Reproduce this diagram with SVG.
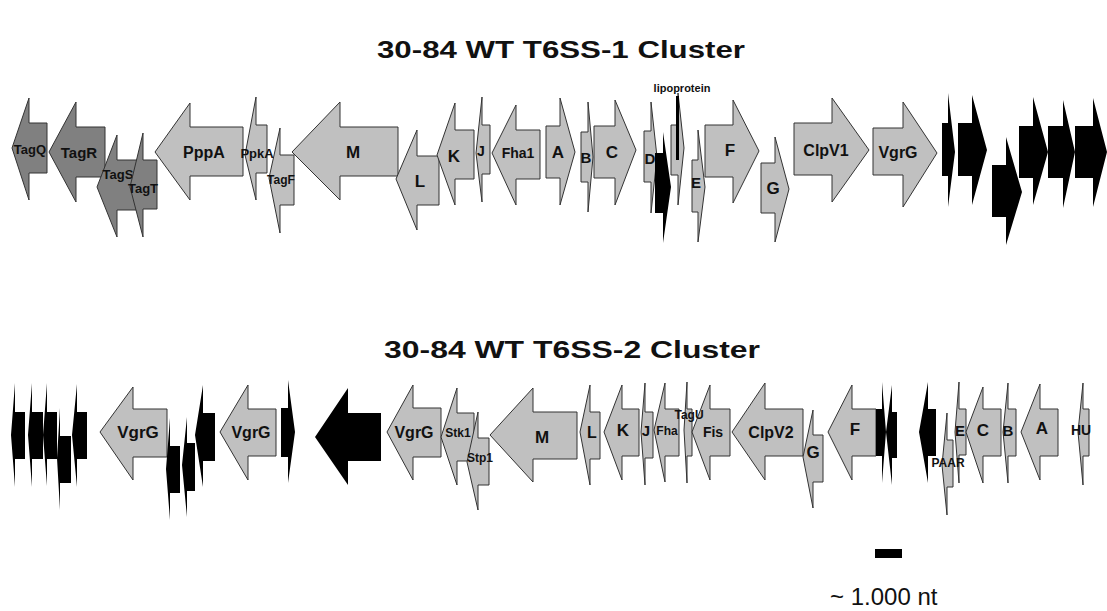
<svg xmlns="http://www.w3.org/2000/svg" width="1107" height="611" viewBox="0 0 1107 611">
<style>
.dk{fill:#808080;stroke:#333;stroke-width:1}
.lt{fill:#c0c0c0;stroke:#333;stroke-width:1}
.bk{fill:#000;stroke:none}
.l{font-family:"Liberation Sans",Arial,sans-serif;font-weight:bold;fill:#111;text-anchor:middle;dominant-baseline:central}
.t{font-family:"Liberation Sans",Arial,sans-serif;font-weight:bold;fill:#111;text-anchor:middle}
</style>
<rect width="1107" height="611" fill="#fff"/>
<text class="t" x="561" y="58" font-size="24" textLength="368" lengthAdjust="spacingAndGlyphs">30-84 WT T6SS-1 Cluster</text>
<text class="t" x="572" y="358" font-size="24" textLength="376" lengthAdjust="spacingAndGlyphs">30-84 WT T6SS-2 Cluster</text>
<g id="connectors"/>
<!-- Cluster 1 -->
<g id="c1-TagQ"><polygon class="dk" points="12,148 29,98 29,123 47,123 47,173 29,173 29,200"/><text class="l" x="30" y="149" font-size="13">TagQ</text></g>
<g id="c1-TagR"><polygon class="dk" points="49,152 76,102 76,127 105,127 105,177 76,177 76,202"/><text class="l" x="79" y="152" font-size="15">TagR</text></g>
<g id="c1-TagS"><polygon class="dk" points="97,187 117,135 117,160 140,160 140,210 117,210 117,237"/><text class="l" x="118" y="174" font-size="13">TagS</text></g>
<g id="c1-TagT"><polygon class="dk" points="130,187 143,133 143,160 157,160 157,209 143,209 143,237"/><text class="l" x="143" y="188" font-size="13">TagT</text></g>
<g id="c1-PppA"><polygon class="lt" points="155,152 190,103 190,127 243,127 243,176 190,176 190,200"/><text class="l" x="204" y="152" font-size="16">PppA</text></g>
<g id="c1-PpkA"><polygon class="lt" points="245,155 256,97 256,125 267,125 267,173 256,173 256,200"/></g>
<g id="c1-TagF"><polygon class="lt" points="269,178 280,128 280,155 294,155 294,205 280,205 280,233"/><text class="l" x="281" y="180" font-size="12">TagF</text></g>
<text class="l" x="257" y="153" font-size="13">PpkA</text>
<g id="c1-M"><polygon class="lt" points="292,152 340,102 340,127 398,127 398,176 340,176 340,200"/><text class="l" x="353" y="152" font-size="17">M</text></g>
<g id="c1-L"><polygon class="lt" points="396,179 417,130 417,156 439,156 439,205 417,205 417,230"/><text class="l" x="420" y="181" font-size="17">L</text></g>
<g id="c1-K"><polygon class="lt" points="437,155 455,103 455,130 474,130 474,179 455,179 455,205"/><text class="l" x="454" y="156" font-size="17">K</text></g>
<g id="c1-J"><polygon class="lt" points="476,153 482,97 482,125 490,125 490,174 482,174 482,202"/><text class="l" x="481" y="151" font-size="14">J</text></g>
<g id="c1-Fha1"><polygon class="lt" points="492,153 516,105 516,130 540,130 540,179 516,179 516,205"/><text class="l" x="518" y="153" font-size="14">Fha1</text></g>
<g id="c1-A"><polygon class="lt" points="546,126 560,126 560,98 575,152 560,205 560,178 546,178"/><text class="l" x="558" y="152" font-size="17">A</text></g>
<g id="c1-B"><polygon class="lt" points="581,132 588,132 588,102 593,157 588,212 588,182 581,182"/><text class="l" x="586" y="157" font-size="15">B</text></g>
<g id="c1-C"><polygon class="lt" points="594,126 615,126 615,100 636,150 615,205 615,178 594,178"/><text class="l" x="612" y="152" font-size="17">C</text></g>
<g id="c1-D"><polygon class="lt" points="644,131 651,131 651,102 657,157 651,213 651,182 644,182"/><text class="l" x="650" y="158" font-size="15">D</text></g>
<g id="c1-black1"><polygon class="bk" points="655,153 663,153 663,132 671,187 663,243 663,213 655,213"/></g>
<g id="c1-lipoprotein"><polygon class="lt" points="671,125 678,125 678,93 684,148 678,205 678,175 671,175"/><rect class="bk" x="676" y="96" width="3" height="64"/><text class="l" x="682" y="88" font-size="11">lipoprotein</text></g>
<g id="c1-E"><polygon class="lt" points="692,160 698,160 698,130 705,187 698,242 698,212 692,212"/><text class="l" x="696" y="182" font-size="15">E</text></g>
<g id="c1-F"><polygon class="lt" points="705,125 733,125 733,100 759,151 733,203 733,177 705,177"/><text class="l" x="730" y="150" font-size="17">F</text></g>
<g id="c1-G"><polygon class="lt" points="761,163 775,163 775,137 789,189 775,242 775,213 761,213"/><text class="l" x="773" y="188" font-size="17">G</text></g>
<g id="c1-ClpV1"><polygon class="lt" points="794,123 832,123 832,98 869,150 832,202 832,175 794,175"/><text class="l" x="826" y="150" font-size="16">ClpV1</text></g>
<g id="c1-VgrG"><polygon class="lt" points="873,128 903,128 903,102 937,153 903,207 903,175 873,175"/><text class="l" x="898" y="152" font-size="16">VgrG</text></g>
<g id="c1-black2"><polygon class="bk" points="942,123 948,123 948,93 955,152 948,207 948,176 942,176"/></g>
<g id="c1-black3"><polygon class="bk" points="958,123 972,123 972,95 987,150 972,205 972,176 958,176"/></g>
<g id="c1-black4"><polygon class="bk" points="992,165 1006,165 1006,137 1022,192 1006,245 1006,217 992,217"/></g>
<g id="c1-black5"><polygon class="bk" points="1019,126 1033,126 1033,97 1048,152 1033,205 1033,178 1019,178"/></g>
<g id="c1-black6"><polygon class="bk" points="1048,126 1063,126 1063,100 1075,152 1063,208 1063,178 1048,178"/></g>
<g id="c1-black7"><polygon class="bk" points="1075,126 1093,126 1093,98 1107,152 1093,207 1093,178 1075,178"/></g>
<!-- Cluster 2 -->
<g id="c2-black1"><polygon class="bk" points="11,435 15,383 15,412 25,412 25,459 15,459 15,487"/></g>
<g id="c2-black2"><polygon class="bk" points="28,435 32,383 32,412 43,412 43,459 32,459 32,487"/></g>
<g id="c2-black3"><polygon class="bk" points="43,435 47,383 47,412 57,412 57,459 47,459 47,486"/></g>
<g id="c2-black4"><polygon class="bk" points="57,458 60,408 60,436 71,436 71,483 60,483 60,510"/></g>
<g id="c2-black5"><polygon class="bk" points="72,435 77,384 77,412 87,412 87,459 77,459 77,487"/></g>
<g id="c2-VgrG1"><polygon class="lt" points="100,432 133,387 133,409 167,409 167,457 133,457 133,480"/><text class="l" x="138" y="432" font-size="17">VgrG</text></g>
<g id="c2-black6"><polygon class="bk" points="166,469 170,418 170,446 180,446 180,493 170,493 170,520"/></g>
<g id="c2-black7"><polygon class="bk" points="182,465 187,417 187,443 195,443 195,491 187,491 187,517"/></g>
<g id="c2-black8"><polygon class="bk" points="195,435 203,385 203,413 215,413 215,461 203,461 203,487"/></g>
<g id="c2-VgrG2"><polygon class="lt" points="220,432 248,385 248,409 276,409 276,456 248,456 248,480"/><text class="l" x="251" y="432" font-size="16">VgrG</text></g>
<g id="c2-black9"><polygon class="bk" points="281,408 288,408 288,380 295,432 288,483 288,457 281,457"/></g>
<g id="c2-black10"><polygon class="bk" points="315,437 348,388 348,413 381,413 381,461 348,461 348,485"/></g>
<g id="c2-VgrG3"><polygon class="lt" points="387,432 413,385 413,408 441,408 441,457 413,457 413,480"/><text class="l" x="414" y="432" font-size="16">VgrG</text></g>
<g id="c2-Stk1"><polygon class="lt" points="441,437 457,388 457,413 474,413 474,461 457,461 457,485"/><text class="l" x="458" y="433" font-size="12">Stk1</text></g>
<g id="c2-Stp1"><polygon class="lt" points="467,462 478,412 478,438 489,438 489,485 478,485 478,510"/><text class="l" x="480" y="458" font-size="12">Stp1</text></g>
<g id="c2-M"><polygon class="lt" points="490,435 533,388 533,412 577,412 577,459 533,459 533,482"/><text class="l" x="542" y="437" font-size="17">M</text></g>
<g id="c2-L"><polygon class="lt" points="580,432 590,385 590,412 600,412 600,459 590,459 590,485"/><text class="l" x="592" y="432" font-size="16">L</text></g>
<g id="c2-K"><polygon class="lt" points="604,432 622,385 622,409 639,409 639,456 622,456 622,480"/><text class="l" x="623" y="430" font-size="17">K</text></g>
<g id="c2-J"><polygon class="lt" points="641,432 645,383 645,412 653,412 653,458 645,458 645,485"/><text class="l" x="646" y="430" font-size="15">J</text></g>
<g id="c2-Fha"><polygon class="lt" points="654,430 665,383 665,409 679,409 679,456 665,456 665,482"/><text class="l" x="667" y="431" font-size="12">Fha</text></g>
<g id="c2-TagU"><polygon class="lt" points="684,430 687,382 687,409 692,409 692,456 687,456 687,483"/></g>
<g id="c2-Fis"><polygon class="lt" points="692,432 710,385 710,409 730,409 730,456 710,456 710,480"/><text class="l" x="713" y="432" font-size="14">Fis</text></g>
<text class="l" x="689" y="415" font-size="12">TagU</text>
<g id="c2-ClpV2"><polygon class="lt" points="732,432 765,383 765,409 803,409 803,456 765,456 765,480"/><text class="l" x="771" y="432" font-size="16">ClpV2</text></g>
<g id="c2-G"><polygon class="lt" points="803,457 813,410 813,435 823,435 823,482 813,482 813,508"/><text class="l" x="813" y="452" font-size="17">G</text></g>
<g id="c2-F"><polygon class="lt" points="828,432 852,385 852,409 876,409 876,456 852,456 852,480"/><text class="l" x="855" y="429" font-size="17">F</text></g>
<g id="c2-black11"><polygon class="bk" points="876,409 882,409 882,382 886,432 882,483 882,456 876,456"/></g>
<g id="c2-black12"><polygon class="bk" points="886,432 892,385 892,412 897,412 897,458 892,458 892,485"/></g>
<g id="c2-black13"><polygon class="bk" points="919,432 928,382 928,409 936,409 936,456 928,456 928,483"/></g>
<g id="c2-PAAR"><polygon class="lt" points="942,465 947,413 947,440 953,440 953,487 947,487 947,515"/></g>
<g id="c2-E"><polygon class="lt" points="955,432 959,382 959,409 966,409 966,455 959,455 959,483"/><text class="l" x="960" y="430" font-size="15">E</text></g>
<text class="l" x="948" y="463" font-size="12">PAAR</text>
<g id="c2-C"><polygon class="lt" points="966,432 983,387 983,409 1001,409 1001,456 983,456 983,483"/><text class="l" x="983" y="430" font-size="17">C</text></g>
<g id="c2-B"><polygon class="lt" points="1003,432 1008,383 1008,409 1016,409 1016,456 1008,456 1008,483"/><text class="l" x="1008" y="430" font-size="15">B</text></g>
<g id="c2-A"><polygon class="lt" points="1021,432 1040,384 1040,409 1058,409 1058,456 1040,456 1040,480"/><text class="l" x="1042" y="428" font-size="17">A</text></g>
<g id="c2-HU"><polygon class="lt" points="1078,432 1083,383 1083,409 1089,409 1089,456 1083,456 1083,485"/><text class="l" x="1081" y="430" font-size="14">HU</text></g>
<g id="scale"><rect x="875" y="549" width="27" height="9" fill="#000"/><text x="830" y="605" font-family="'Liberation Sans',Arial,sans-serif" font-size="24" fill="#111">~ 1.000 nt</text></g>
</svg>
